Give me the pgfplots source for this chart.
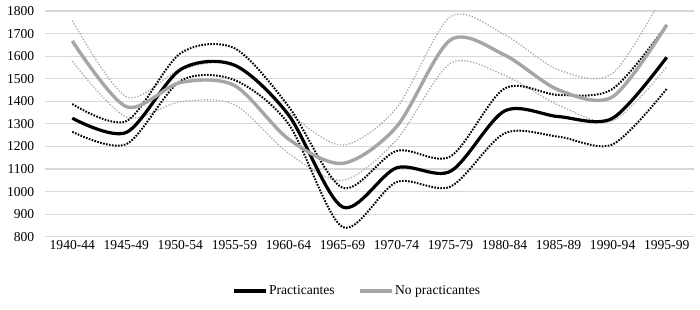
\documentclass[border=0pt]{standalone}
\usepackage{fontspec}
\setmainfont{Liberation Serif}
\usepackage{pgfplots}
\pgfplotsset{compat=1.18}
\definecolor{gridc}{HTML}{D9D9D9}
\definecolor{grayl}{HTML}{A6A6A6}
\definecolor{grayd}{HTML}{A9A9A9}
\begin{document}
\begin{tikzpicture}
\begin{axis}[
  scale only axis,
  width=648.4bp, height=225.7bp,
  xmin=-0.5, xmax=11.5,
  ymin=800, ymax=1800,
  ytick={800,900,...,1800},
  xtick={0,...,11},
  xticklabels={1940-44,1945-49,1950-54,1955-59,1960-64,1965-69,1970-74,1975-79,1980-84,1985-89,1990-94,1995-99},
  scaled y ticks=false,
  /pgf/number format/1000 sep={},
  /pgf/number format/assume math mode=true,
  axis line style={draw=none},
  major tick length=0pt,
  ymajorgrids,
  grid style={gridc, line width=1.1bp},
  tick label style={font=\fontsize{13.6bp}{16bp}\selectfont, black},
  yticklabel style={xshift=-7.5bp},
  legend style={at={(0.4807,-0.2406)}, anchor=center, draw=none, fill=none,
    font=\fontsize{13.6bp}{16bp}\selectfont, inner sep=0pt,
    nodes={inner sep=1.5bp},
    /tikz/every even column/.append style={column sep=22bp}},
  legend columns=2,
  legend image code/.code={\draw[#1] (0bp,0bp) -- (32bp,0bp);},
]
\coordinate (bl) at (rel axis cs:0,0);
\coordinate (tr) at (rel axis cs:1,1);
% gray confidence bands
\addplot[smooth, forget plot, grayd, line width=1.3bp, dash pattern=on 1.3bp off 1.7bp] coordinates {
(0,1757) (1,1420) (2,1540) (3,1562) (4,1350) (5,1206) (6,1370) (7,1775) (8,1695) (9,1539) (10,1524) (11,1900)};
\addplot[smooth, forget plot, grayd, line width=1.3bp, dash pattern=on 1.3bp off 1.7bp] coordinates {
(0,1578) (1,1330) (2,1398) (3,1385) (4,1170) (5,1050) (6,1229) (7,1568) (8,1515) (9,1383) (10,1313) (11,1553)};
% black confidence bands
\addplot[smooth, forget plot, black, line width=2bp, dash pattern=on 1.6bp off 1.4bp] coordinates {
(0,1388) (1,1312) (2,1612) (3,1635) (4,1378) (5,1017) (6,1180) (7,1156) (8,1457) (9,1428) (10,1455) (11,1738)};
\addplot[smooth, forget plot, black, line width=2bp, dash pattern=on 1.6bp off 1.4bp] coordinates {
(0,1265) (1,1210) (2,1490) (3,1494) (4,1300) (5,843) (6,1042) (7,1022) (8,1258) (9,1243) (10,1209) (11,1455)};
% main series
\addplot[smooth, black, line width=3.2bp] coordinates {
(0,1325) (1,1262) (2,1540) (3,1560) (4,1340) (5,932) (6,1105) (7,1090) (8,1357) (9,1332) (10,1325) (11,1595)};
\addlegendentry{Practicantes}
\addplot[smooth, grayl, line width=3.4bp] coordinates {
(0,1667) (1,1376) (2,1483) (3,1470) (4,1233) (5,1125) (6,1287) (7,1672) (8,1605) (9,1450) (10,1420) (11,1738)};
\addlegendentry{No practicantes}
\end{axis}
\pgfresetboundingbox
\path[use as bounding box] ([shift={(-45.3bp,-73.3bp)}]bl) rectangle ([shift={(6.3bp,11bp)}]tr);
\end{tikzpicture}
\end{document}
